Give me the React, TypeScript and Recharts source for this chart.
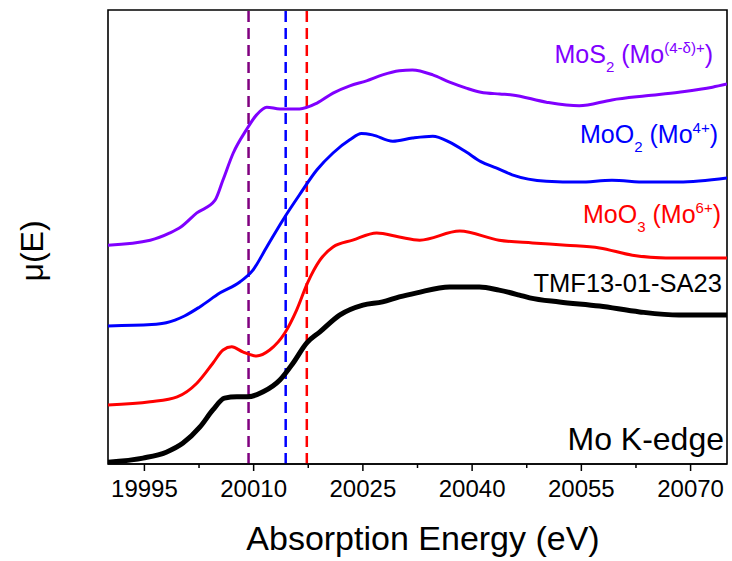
import React from 'react'
import { LineChart, Line, XAxis, YAxis, ReferenceLine, ReferenceArea } from 'recharts'

const FONT = '"Liberation Sans", Arial, sans-serif'

// Mo K-edge XANES, offset-stacked
const SAMPLE_E = [19990, 19994.8, 19998, 20000.3, 20002.6, 20004.4, 20006, 20007.7, 20009.2, 20011.3, 20013.6, 20015.4, 20017.3, 20019.1, 20021.8, 20025, 20027.7, 20030, 20032.4, 20036.9, 20041, 20043.7, 20046.5, 20047.9, 20052, 20057.5, 20063, 20068.4, 20075]
const SAMPLE_MU = [0.04, 0.13, 0.26, 0.46, 0.81, 1.19, 1.45, 1.48, 1.48, 1.59, 1.85, 2.22, 2.67, 2.91, 3.28, 3.5, 3.57, 3.68, 3.77, 3.9, 3.9, 3.83, 3.72, 3.66, 3.57, 3.48, 3.35, 3.28, 3.28]

const MOO3_E = [19990, 19995.8, 19999.5, 20002.2, 20004.4, 20005.8, 20007, 20008.5, 20010.4, 20012.2, 20014.3, 20015.9, 20017.4, 20019.1, 20020.9, 20023.6, 20026.9, 20030, 20032.8, 20038.3, 20043.7, 20048.3, 20052.9, 20057.5, 20062, 20066.6, 20075]
const MOO3_MU = [1.3, 1.37, 1.48, 1.78, 2.22, 2.51, 2.58, 2.47, 2.38, 2.51, 2.89, 3.39, 3.99, 4.49, 4.78, 4.93, 5.09, 5.0, 4.93, 5.13, 4.93, 4.87, 4.82, 4.76, 4.6, 4.54, 4.54]

const MOO2_E = [19990, 19996, 19998, 19999.2, 20000.5, 20002.6, 20005.4, 20008.1, 20009.9, 20011.8, 20014, 20016.3, 20018.7, 20020.9, 20023.2, 20024.8, 20026.3, 20029.1, 20031.8, 20034.6, 20036.9, 20039.2, 20041.2, 20043.3, 20045.5, 20050.2, 20054.7, 20059.2, 20063.9, 20068.4, 20075]
const MOO2_MU = [3.04, 3.07, 3.11, 3.17, 3.26, 3.46, 3.77, 4.01, 4.27, 4.78, 5.37, 5.93, 6.48, 6.85, 7.14, 7.28, 7.25, 7.11, 7.18, 7.22, 7.09, 6.87, 6.66, 6.52, 6.37, 6.23, 6.21, 6.25, 6.21, 6.21, 6.3]

const MOS2_E = [19990, 19995.8, 19998.5, 20000, 20002.2, 20004.7, 20005.8, 20007.2, 20009, 20010.4, 20011.8, 20013.6, 20016.3, 20018.7, 20020.9, 20023.2, 20025.5, 20027.7, 20030, 20031.8, 20034.6, 20036.9, 20039.2, 20041.2, 20043.8, 20045.5, 20050.2, 20054.7, 20059.2, 20063.9, 20068.4, 20073, 20075]
const MOS2_MU = [4.82, 4.93, 5.09, 5.22, 5.53, 5.81, 6.26, 6.85, 7.36, 7.69, 7.86, 7.82, 7.82, 7.95, 8.17, 8.33, 8.44, 8.57, 8.66, 8.68, 8.57, 8.41, 8.28, 8.19, 8.15, 8.13, 7.97, 7.89, 8.02, 8.11, 8.19, 8.3, 8.37]

// edge positions (dashed markers)
const EDGE_MOS2 = 20009.3
const EDGE_MOO2 = 20014.4
const EDGE_MOO3 = 20017.3

const X_DOMAIN = [19990, 20075]
const Y_DOMAIN = [0, 10]
const X_MAJOR = [19995, 20010, 20025, 20040, 20055, 20070]
const X_TICKS = [19995, 20002.5, 20010, 20017.5, 20025, 20032.5, 20040, 20047.5, 20055, 20062.5, 20070]
const Y_TICKS = [0.333, 0.667, 1, 1.333, 1.667, 2, 2.333, 2.667, 3, 3.333, 3.667, 4, 4.333, 4.667, 5, 5.333, 5.667, 6, 6.333, 6.667, 7, 7.333, 7.667, 8, 8.333, 8.667, 9, 9.333, 9.667]

const toRows = (e: number[], mu: number[]) => e.map((x, i) => ({ e: x, mu: mu[i] }))

const XTick = (props: any) => {
  const { x, y, payload } = props
  const major = X_MAJOR.includes(payload.value)
  return (
    <g>
      <line x1={x} x2={x} y1={y} y2={y + (major ? 7 : 4)} stroke="#000" strokeWidth={1.5} />
      {major && (
        <text x={x} y={y + 33} textAnchor="middle" fontSize={24} fontFamily={FONT} fill="#000">
          {payload.value}
        </text>
      )}
    </g>
  )
}

const YTick = (props: any) => {
  const { x, y } = props
  return <line x1={x} x2={x + 3} y1={y} y2={y} stroke="#000" strokeWidth={1.2} />
}

const axisStroke = { stroke: '#000', strokeWidth: 1.6 }

export default function App() {
  return (
    <div style={{ position: 'absolute', left: 0, top: 0, width: 732, height: 561, background: '#fff' }}>
      <LineChart width={732} height={561} margin={{ top: 10, right: 5, bottom: 37, left: 108 }}>
        <XAxis
          dataKey="e" type="number" domain={X_DOMAIN} allowDataOverflow
          ticks={X_TICKS} interval={0} tick={<XTick />} tickLine={false}
          tickSize={0} tickMargin={0} height={60} axisLine={axisStroke}
        />
        <YAxis
          type="number" domain={Y_DOMAIN} allowDataOverflow ticks={Y_TICKS} interval={0}
          tick={<YTick />} tickLine={false} tickSize={0} tickMargin={0} width={0} axisLine={axisStroke}
        />

        {/* box frame */}
        <ReferenceArea
          x1={X_DOMAIN[0]} x2={X_DOMAIN[1]} y1={Y_DOMAIN[0]} y2={Y_DOMAIN[1]}
          fill="none" fillOpacity={0} stroke="#000" strokeWidth={1.6} ifOverflow="visible"
        />

        <ReferenceLine x={EDGE_MOS2} stroke="#800080" strokeWidth={2.5} strokeDasharray="11 6" />
        <ReferenceLine x={EDGE_MOO2} stroke="#0000FF" strokeWidth={2.5} strokeDasharray="11 6" />
        <ReferenceLine x={EDGE_MOO3} stroke="#FF0000" strokeWidth={2.5} strokeDasharray="11 6" />

        <Line data={toRows(MOS2_E, MOS2_MU)} dataKey="mu" type="monotone" stroke="#8000FF" strokeWidth={3} dot={false} isAnimationActive={false} />
        <Line data={toRows(MOO2_E, MOO2_MU)} dataKey="mu" type="monotone" stroke="#0000FF" strokeWidth={3} dot={false} isAnimationActive={false} />
        <Line data={toRows(MOO3_E, MOO3_MU)} dataKey="mu" type="monotone" stroke="#FF0000" strokeWidth={3} dot={false} isAnimationActive={false} />
        <Line data={toRows(SAMPLE_E, SAMPLE_MU)} dataKey="mu" type="monotone" stroke="#000" strokeWidth={5} dot={false} isAnimationActive={false} />
      </LineChart>

      <svg width={732} height={561} style={{ position: 'absolute', left: 0, top: 0, pointerEvents: 'none' }} fontFamily={FONT}>
        <text x={713} y={63} textAnchor="end" fontSize={25} fill="#8000FF">
          MoS<tspan dy={9} fontSize={15}>2</tspan>
          <tspan dy={-9}> (Mo</tspan>
          <tspan dy={-10} fontSize={15}>(4-δ)+</tspan>
          <tspan dy={10}>)</tspan>
        </text>
        <text x={718} y={143} textAnchor="end" fontSize={25} fill="#0000FF">
          MoO<tspan dy={9} fontSize={15}>2</tspan>
          <tspan dy={-9}> (Mo</tspan>
          <tspan dy={-10} fontSize={15}>4+</tspan>
          <tspan dy={10}>)</tspan>
        </text>
        <text x={721} y={223} textAnchor="end" fontSize={25} fill="#FF0000">
          MoO<tspan dy={9} fontSize={15}>3</tspan>
          <tspan dy={-9}> (Mo</tspan>
          <tspan dy={-10} fontSize={15}>6+</tspan>
          <tspan dy={10}>)</tspan>
        </text>
        <text x={722} y={292} textAnchor="end" fontSize={25.5} fill="#000">TMF13-01-SA23</text>
        <text x={724} y={450} textAnchor="end" fontSize={32} fill="#000">Mo K-edge</text>
        <text x={423} y={550} textAnchor="middle" fontSize={34} fill="#000">Absorption Energy (eV)</text>
        <text x={0} y={0} transform="translate(43 251) rotate(-90)" textAnchor="middle" fontSize={32} fill="#000">μ(E)</text>
      </svg>
    </div>
  )
}
